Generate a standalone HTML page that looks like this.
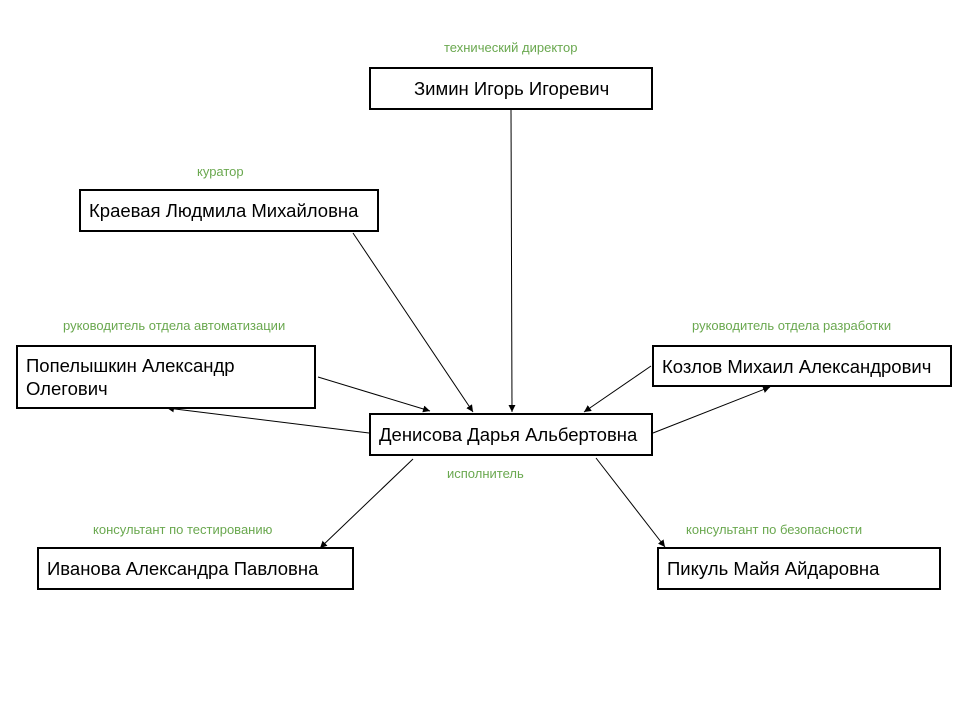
<!DOCTYPE html>
<html><head><meta charset="utf-8"><style>
body{margin:0;background:#fff;width:960px;height:720px;overflow:hidden;position:relative;font-family:"Liberation Sans",sans-serif}
.b{position:absolute;border:2px solid #000;box-sizing:border-box;background:#fff;font-size:18.5px;color:#000;padding-left:8px;display:flex;align-items:center;line-height:23px;white-space:nowrap}
.l{position:absolute;font-size:13px;color:#6aa84f;white-space:nowrap}
svg{position:absolute;left:0;top:0}
</style></head><body>
<svg width="960" height="720">
<defs><marker id="a" viewBox="0 0 10 10" refX="10" refY="5" markerWidth="7" markerHeight="7" orient="auto"><path d="M0,0 L10,5 L0,10 z" fill="#000"/></marker></defs>
<g stroke="#000" stroke-width="1" marker-end="url(#a)">
<line x1="511" y1="109" x2="512" y2="412"/>
<line x1="353" y1="233" x2="473" y2="412"/>
<line x1="318" y1="377" x2="430" y2="411"/>
<line x1="369" y1="433" x2="167" y2="408"/>
<line x1="651" y1="366" x2="584" y2="412"/>
<line x1="653" y1="433" x2="770" y2="387"/>
<line x1="413" y1="459" x2="320" y2="548"/>
<line x1="596" y1="458" x2="665" y2="547"/>
</g></svg>
<div class="l" style="left:444px;top:40px">технический директор</div>
<div class="b" style="left:369px;top:67px;width:284px;height:43px;padding-left:43px">Зимин Игорь Игоревич</div>
<div class="l" style="left:197px;top:164px">куратор</div>
<div class="b" style="left:79px;top:189px;width:300px;height:43px">Краевая Людмила Михайловна</div>
<div class="l" style="left:63px;top:318px">руководитель отдела автоматизации</div>
<div class="b" style="left:16px;top:345px;width:300px;height:64px">Попелышкин Александр<br>Олегович</div>
<div class="l" style="left:692px;top:318px">руководитель отдела разработки</div>
<div class="b" style="left:652px;top:345px;width:300px;height:42px">Козлов Михаил Александрович</div>
<div class="b" style="left:369px;top:413px;width:284px;height:43px">Денисова Дарья Альбертовна</div>
<div class="l" style="left:447px;top:466px">исполнитель</div>
<div class="l" style="left:93px;top:522px">консультант по тестированию</div>
<div class="b" style="left:37px;top:547px;width:317px;height:43px">Иванова Александра Павловна</div>
<div class="l" style="left:686px;top:522px">консультант по безопасности</div>
<div class="b" style="left:657px;top:547px;width:284px;height:43px">Пикуль Майя Айдаровна</div>
</body></html>
